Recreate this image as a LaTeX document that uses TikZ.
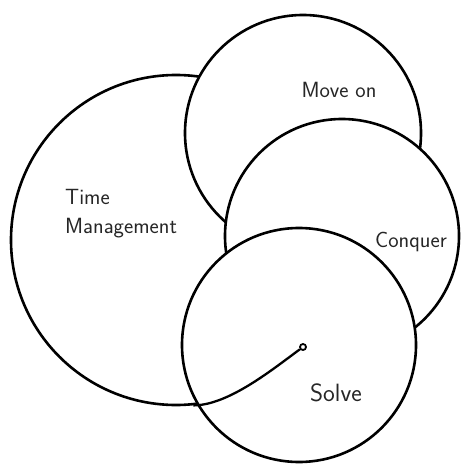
\documentclass[tikz,border=0pt]{standalone}
\usepackage{fontspec}
\usetikzlibrary{positioning}

\begin{document}
\begin{tikzpicture}[
    x=1pt, y=-1pt,
    % === STYLES ===
    ring/.style={
        circle,
        draw=black,
        fill=white,
        line width=2.6pt,
        inner sep=0pt,
        minimum size=#1
    },
    ring/.default=232pt,
    tag/.style={
        font=\sffamily\fontsize{22}{29}\selectfont,
        anchor=base,
        align=left,
        inner sep=0pt,
        color=black!85
    },
    spiral/.style={
        line width=2.3pt,
        color=black
    },
    hub/.style={
        circle,
        draw=black,
        fill=white,
        line width=1.8pt,
        inner sep=0pt,
        minimum size=6pt
    }
]

\useasboundingbox (0,0) rectangle (466,468);

% === CIRCLES (back to front) ===
\node[ring=330pt] (time) at (176,240) {};
\node[ring=236pt] (moveon) at (303,133) {};
\node[ring=234pt] (conquer) at (342,236) {};
\node[ring=234pt] (solve) at (299,345) {};

% === SPIRAL INTO SOLVE ===
\node[hub] (hub) at (303,347) {};
\draw[spiral] (time.-84) .. controls +(35,0) and +(-30,22) .. (hub);

% === LABELS ===
\node[tag, anchor=base west] (timelabel) at (65,233) {Time\\Management};
\node[tag] (moveonlabel) at (339,98) {Move on};
\node[tag] (conquerlabel) at (411,247) {Conquer};
\node[tag, font=\sffamily\fontsize{25}{29}\selectfont] (solvelabel) at (336,401) {Solve};

\end{tikzpicture}
\end{document}
